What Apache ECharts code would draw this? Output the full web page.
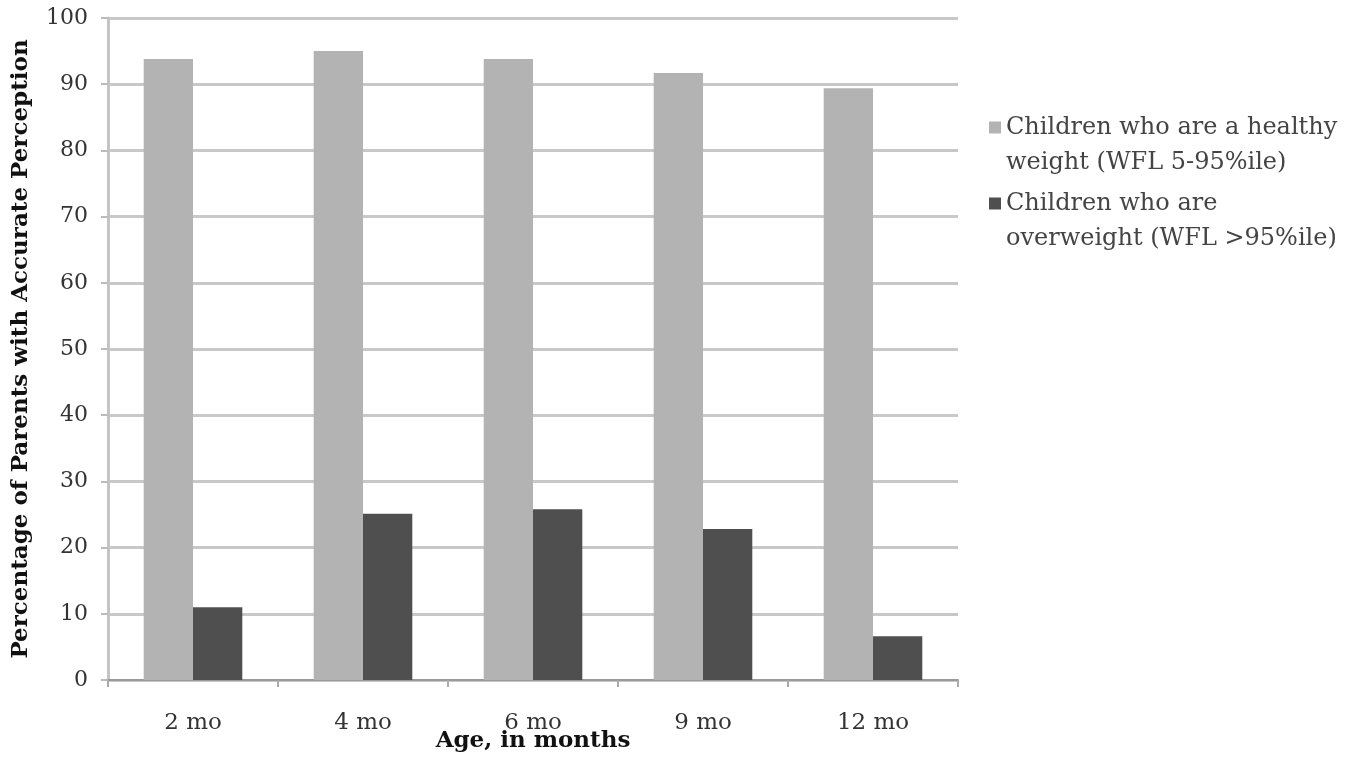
<!DOCTYPE html>
<html><head><meta charset="utf-8">
<script src="https://cdn.jsdelivr.net/npm/echarts@6/dist/echarts.min.js"></script>
<style>html,body{margin:0;padding:0;background:#fff}#c{width:1365px;height:764px}</style>
</head><body><div id="c"></div>
<script>
const categories = ['2 mo', '4 mo', '6 mo', '9 mo', '12 mo'];
const healthyValues = [93.8, 95.0, 93.8, 91.7, 89.4];
const overweightValues = [11.0, 25.1, 25.8, 22.8, 6.6];
const seriesNames = ['Children who are a healthy\nweight (WFL 5-95%ile)', 'Children who are\noverweight (WFL >95%ile)'];
const yTicks = { min: 0, max: 100, interval: 10 };

const serif = '"DejaVu Serif", "Liberation Serif", serif';
const chart = echarts.init(document.getElementById('c'));
chart.setOption({
  animation: false,
  backgroundColor: '#fff',
  grid: { left: 108, right: 407, top: 18, bottom: 84, containLabel: false, outerBoundsMode: 'none' },
  legend: {
    orient: 'vertical', left: 989, top: 75, padding: 0,
    itemWidth: 12, itemHeight: 12, itemGap: -29,
    icon: 'rect',
    formatter: function (n) { return ' \n' + n; },
    textStyle: { fontFamily: serif, fontSize: 24, color: '#444', lineHeight: 35 },
    data: seriesNames
  },
  xAxis: {
    type: 'category', data: categories,
    name: 'Age, in months', nameLocation: 'middle', nameGap: 50, nameMoveOverlap: false,
    nameTextStyle: { fontFamily: serif, fontSize: 23, fontWeight: 'bold', color: '#111' },
    axisLine: { lineStyle: { color: '#999', width: 2 } },
    axisTick: { show: true, length: 7, lineStyle: { color: '#aaa', width: 2 } },
    axisLabel: { fontFamily: serif, fontSize: 23, color: '#333', margin: 32 }
  },
  yAxis: {
    type: 'value', min: yTicks.min, max: yTicks.max, interval: yTicks.interval,
    name: 'Percentage of Parents with Accurate Perception', nameLocation: 'middle', nameGap: 75, nameMoveOverlap: false,
    nameTextStyle: { fontFamily: serif, fontSize: 23, fontWeight: 'bold', color: '#111' },
    axisLine: { show: true, lineStyle: { color: '#c4c4c4', width: 3 } },
    axisTick: { show: true, length: 7, lineStyle: { color: '#bbb', width: 2 } },
    axisLabel: { fontFamily: serif, fontSize: 22, color: '#333', margin: 20 },
    splitLine: { lineStyle: { color: '#c8c8c8', width: 3 } }
  },
  series: [
    { name: seriesNames[0], type: 'bar', data: healthyValues, itemStyle: { color: '#b3b3b3' }, barGap: '0%', barCategoryGap: '42%' },
    { name: seriesNames[1], type: 'bar', data: overweightValues, itemStyle: { color: '#4f4f4f' }, barGap: '0%', barCategoryGap: '42%' }
  ]
});
</script></body></html>
